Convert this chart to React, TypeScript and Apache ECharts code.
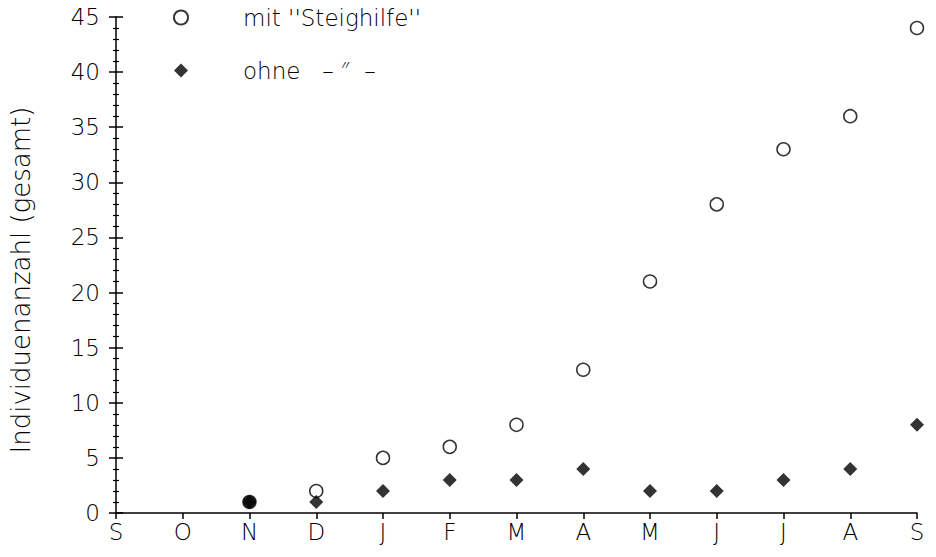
import React, { useEffect, useRef } from "react";
import * as echarts from "echarts";

const months = ["S", "O", "N", "D", "J", "F", "M", "A", "M", "J", "J", "A", "S"];
const mitSteighilfe = [null, null, 1, 2, 5, 6, 8, 13, 21, 28, 33, 36, 44];
const ohne = [null, null, 1, 1, 2, 3, 3, 4, 2, 2, 3, 4, 8];
const seriesNames = ["mit ''Steighilfe''", "ohne   – ″  –"];
const yName = "Individuenanzahl (gesamt)";

const FONT = "'DejaVu Sans', 'Noto Sans', sans-serif";
const FW = 200;

export default function App() {
  const ref = useRef<HTMLDivElement>(null);
  useEffect(() => {
    if (!ref.current) return;
    const chart = echarts.init(ref.current, null, { renderer: "svg" });
    const axisCommon = {
      type: "value",
      min: 0,
      max: 45,
      interval: 5,
      position: "left",
      splitLine: { show: false },
    };
    const blk = { color: "#000", width: 1.5 };
    chart.setOption({
      animation: false,
      backgroundColor: "#fff",
      grid: { left: 113, right: 19, top: 17, bottom: 44, containLabel: false },
      legend: {
        orient: "vertical",
        left: 173,
        top: 6,
        padding: 0,
        itemWidth: 14,
        itemHeight: 14,
        itemGap: 30,
        data: seriesNames,
        textStyle: { fontFamily: FONT, fontWeight: FW, fontSize: 23, color: "#000", padding: [0, 0, 0, 50] },
      },
      xAxis: {
        type: "category",
        data: months,
        boundaryGap: false,
        axisLine: { show: true, lineStyle: blk },
        axisTick: { show: true, length: 6, lineStyle: blk },
        axisLabel: { fontFamily: FONT, fontWeight: FW, fontSize: 23, color: "#000", margin: 7 },
        splitLine: { show: false },
      },
      yAxis: [
        {
          ...axisCommon,
          name: yName,
          nameLocation: "middle",
          nameGap: 82,
          nameTextStyle: { fontFamily: FONT, fontWeight: FW, fontSize: 26, color: "#000", padding: [0, 30, 0, 0] },
          axisLine: { show: true, lineStyle: blk },
          axisTick: { show: true, inside: false, length: 7, lineStyle: blk },
          minorTick: { show: true, splitNumber: 5, length: 3, lineStyle: { color: "#000", width: 1.2 } },
          axisLabel: { fontFamily: FONT, fontWeight: FW, fontSize: 23, color: "#000", margin: 16 },
        },
        {
          ...axisCommon,
          offset: -7,
          axisLine: { show: false },
          axisTick: { show: true, inside: false, length: 7, lineStyle: blk },
          minorTick: { show: false },
          axisLabel: { show: false },
        },
        {
          ...axisCommon,
          offset: -3,
          axisLine: { show: false },
          axisTick: { show: false, inside: false },
          minorTick: { show: true, splitNumber: 5, length: 3, lineStyle: { color: "#000", width: 1.2 } },
          axisLabel: { show: false },
        },
      ],
      series: [
        {
          name: seriesNames[0],
          type: "scatter",
          yAxisIndex: 0,
          symbol: "circle",
          symbolSize: 13,
          itemStyle: { color: "#fff", borderColor: "#000", borderWidth: 1.5 },
          data: mitSteighilfe.map((v, i) =>
            v === null ? null : i === 2 ? { value: v, itemStyle: { color: "#000" } } : v
          ),
        },
        {
          name: seriesNames[1],
          type: "scatter",
          yAxisIndex: 0,
          symbol: "diamond",
          symbolSize: 14,
          itemStyle: { color: "#000" },
          data: ohne,
        },
      ],
    });
    return () => chart.dispose();
  }, []);
  return (
    <div
      ref={ref}
      style={{ position: "fixed", left: 0, top: 0, width: 936, height: 557, background: "#fff" }}
    />
  );
}
